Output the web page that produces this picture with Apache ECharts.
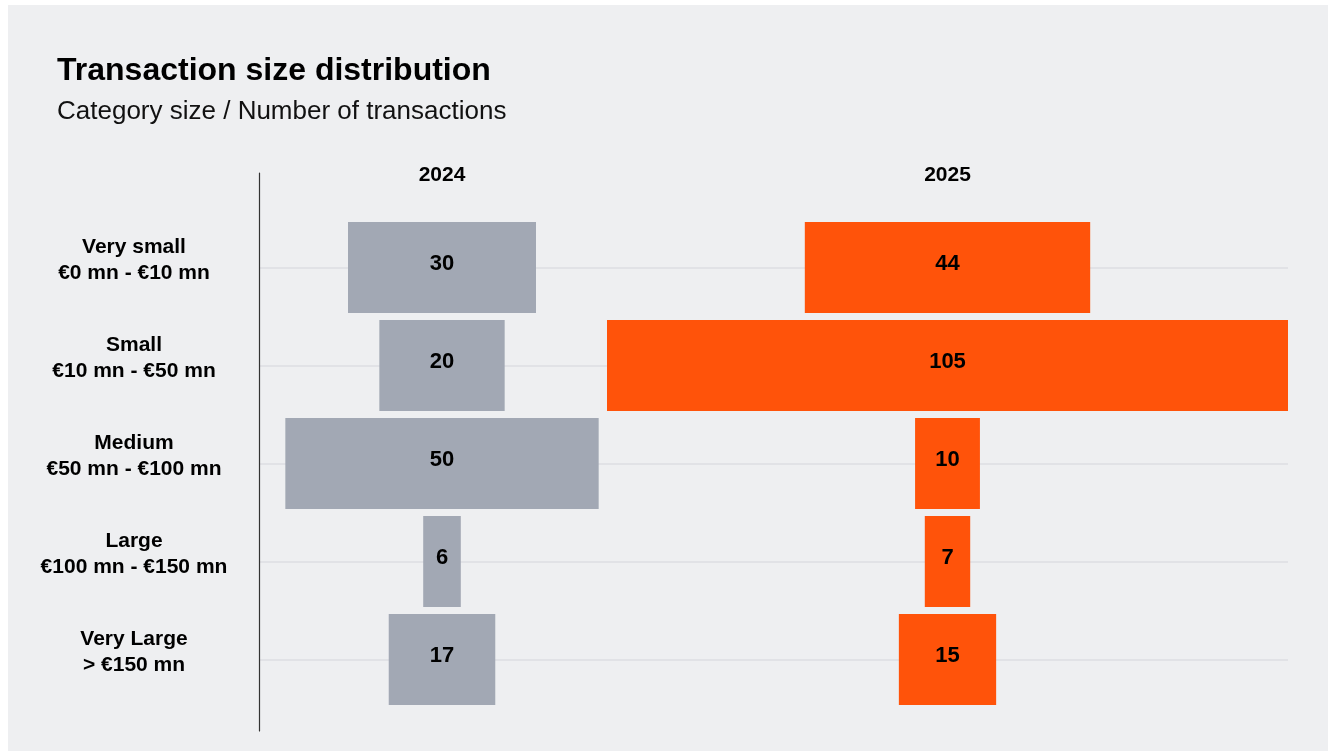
<!DOCTYPE html>
<html>
<head>
<meta charset="utf-8">
<script src="https://cdn.jsdelivr.net/npm/echarts@6/dist/echarts.min.js"></script>
<style>
  html, body { margin: 0; padding: 0; background: #ffffff; width: 1328px; height: 751px; overflow: hidden; }
  #chart { position: absolute; left: 8px; top: 5px; width: 1320px; height: 746px; background: #eeeff1; }
</style>
</head>
<body>
<div id="chart"></div>
<script>
// Size buckets (rows, top to bottom)
const sizeNames  = ['Very small', 'Small', 'Medium', 'Large', 'Very Large'];
const sizeRanges = ['€0 mn - €10 mn', '€10 mn - €50 mn', '€50 mn - €100 mn', '€100 mn - €150 mn', '> €150 mn'];
// Column headers
const years = ['2024', '2025'];
// Number of transactions per bucket
const deals2024 = [30, 20, 50, 6, 17];
const deals2025 = [44, 105, 10, 7, 15];

const FONT = '"Liberation Sans", Arial, Helvetica, sans-serif';
const GREY = '#a2a8b4';
const ORANGE = '#ff530a';

// Bars are centred on zero: each spans -v/2 .. +v/2 on its own value axis.
function centeredBar(params, api) {
  const v = api.value(0);
  const cat = api.value(1);
  const a = api.coord([-v / 2, cat]);
  const b = api.coord([v / 2, cat]);
  const h = api.size([0, 1])[1] * 0.93;
  return {
    type: 'group',
    children: [
      {
        type: 'rect',
        shape: { x: a[0], y: a[1] - h / 2, width: b[0] - a[0], height: h },
        style: { fill: api.visual('color') }
      },
      {
        type: 'text',
        style: {
          text: String(v),
          x: (a[0] + b[0]) / 2,
          y: a[1] - 4,
          align: 'center',
          verticalAlign: 'middle',
          fontSize: 22,
          fontWeight: 'bold',
          fontFamily: FONT,
          fill: '#000000'
        }
      }
    ]
  };
}

const toItems = arr => arr.map((v, i) => [v, i]);

const chart = echarts.init(document.getElementById('chart'), null, { renderer: 'canvas' });

const headerName = (text) => ({
  name: text,
  nameLocation: 'middle',
  nameGap: 33,
  nameTextStyle: { fontSize: 21, fontWeight: 'bold', color: '#000000', fontFamily: FONT }
});

chart.setOption({
  backgroundColor: '#eeeff1',
  animation: false,
  title: [
    {
      text: 'Transaction size distribution',
      left: 49, top: 50, padding: 0,
      textStyle: { fontSize: 32, fontWeight: 'bold', color: '#000000', fontFamily: FONT }
    },
    {
      text: 'Category size / Number of transactions',
      left: 49, top: 94, padding: 0,
      textStyle: { fontSize: 26, fontWeight: 'normal', color: '#111111', fontFamily: FONT }
    }
  ],
  grid: [
    { left: 246, top: 213.5, width: 376, height: 490 },   // 2024 column
    { left: 599, top: 213.5, width: 681, height: 490 },   // 2025 column
    { left: 252, top: 262.5, right: 40, height: 392 },    // row labels + guide lines
    { left: 251.5, top: 168, width: 1, height: 558 }      // vertical divider
  ],
  xAxis: [
    Object.assign({
      gridIndex: 0, type: 'value', position: 'top',
      min: -30, max: 30,
      axisLine: { show: false }, axisTick: { show: false },
      axisLabel: { show: false }, splitLine: { show: false }
    }, headerName(years[0])),
    Object.assign({
      gridIndex: 1, type: 'value', position: 'top',
      min: v => -v.max / 2, max: v => v.max / 2,
      axisLine: { show: false }, axisTick: { show: false },
      axisLabel: { show: false }, splitLine: { show: false }
    }, headerName(years[1])),
    { gridIndex: 2, type: 'value', show: false },
    { gridIndex: 3, type: 'value', show: false }
  ],
  yAxis: [
    { gridIndex: 0, type: 'category', data: sizeNames, inverse: true, show: false },
    { gridIndex: 1, type: 'category', data: sizeNames, inverse: true, show: false },
    {
      gridIndex: 2, type: 'category', data: sizeNames, inverse: true, boundaryGap: false,
      axisLine: { show: false }, axisTick: { show: false },
      splitLine: { show: true, interval: 0, lineStyle: { color: '#dcdee2', width: 1.5 } },
      axisLabel: {
        interval: 0,
        margin: 126,
        align: 'center',
        padding: [0, 0, 14, 0],
        formatter: (val, idx) => '{n|' + val + '}\n{n|' + sizeRanges[idx] + '}',
        rich: {
          n: { fontSize: 21, fontWeight: 'bold', color: '#000000', fontFamily: FONT, lineHeight: 26, align: 'center' }
        }
      }
    },
    {
      gridIndex: 3, type: 'value', min: 0, max: 1,
      axisLine: { show: true, lineStyle: { color: '#333333', width: 1.2 } },
      axisTick: { show: false }, axisLabel: { show: false }, splitLine: { show: false }
    }
  ],
  series: [
    {
      name: years[0], type: 'custom', xAxisIndex: 0, yAxisIndex: 0,
      renderItem: centeredBar, encode: { x: 0, y: 1 },
      itemStyle: { color: GREY }, clip: false,
      data: toItems(deals2024)
    },
    {
      name: years[1], type: 'custom', xAxisIndex: 1, yAxisIndex: 1,
      renderItem: centeredBar, encode: { x: 0, y: 1 },
      itemStyle: { color: ORANGE }, clip: false,
      data: toItems(deals2025)
    }
  ]
});
</script>
</body>
</html>
